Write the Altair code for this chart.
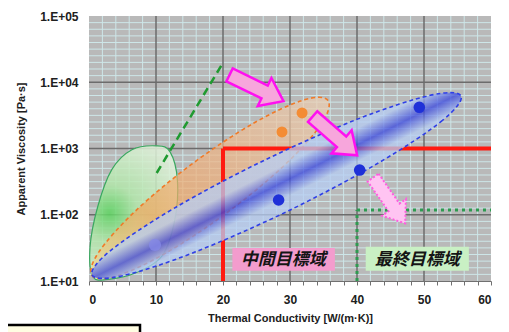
import altair as alt
import pandas as pd

# ---------------- data ----------------
x_ticks = list(range(0, 61, 2))
y_ticks = [10, 100, 1000, 10000, 100000]
x_major = [10, 20, 30, 40, 50]
y_major = [100, 1000, 10000]
x_minor = [v for v in range(2, 60, 2) if v % 10 != 0]
y_minor = [10 ** (k + j / 10) for k in range(1, 5) for j in range(1, 10)]

# ellipse outlines (x, viscosity)
green_x = [10.1, 12.1, 13.2, 12.8, 10.9, 6.9, 3.1, 0.6, 0.15, 1.3, 3.4, 6.4]
green_y = [1096, 891, 331, 83, 24, 13.2, 10.7, 11.5, 32, 132, 479, 955]

orange_x = [35.67, 34.66, 29.18, 20.73, 11.57, 4.15, 0.45, 1.48, 6.93, 15.39, 24.54, 31.99]
orange_y = [5320, 2330, 561, 110, 26.7, 11.9, 12.1, 27.5, 114, 586, 2400, 5380]

blue_x = [55.52, 52.75, 43.31, 29.79, 15.79, 5.04, 0.45, 3.22, 12.63, 26.16, 40.17, 50.93]
blue_y = [6220, 2650, 615, 115, 27.3, 12.0, 12.3, 28.8, 124, 664, 2800, 6350]

# measured points
orange_pts_x = [28.8, 31.8]
orange_pts_y = [1775, 3435]
blue_pts_x = [49.3, 40.4, 28.3]
blue_pts_y = [4190, 473, 167]
faint_pts_x = [9.85]
faint_pts_y = [35]

# target lines
red_x = [20, 20]
red_y = [10, 1000]
red_x2 = [20, 60]
red_y2 = [1000, 1000]
green_tgt_x = [40, 40]
green_tgt_y = [10, 118]
green_tgt_x2 = [40, 60]
green_tgt_y2 = [118, 118]
dash_x = [10.1, 19.8]
dash_y = [427, 18200]

# arrows (centre, direction angle, length)
arrow_x = [25.0, 36.7]
arrow_y = [8180, 1545]
arrow_angle = [26, 41]
arrow_len = [60, 59]
arrow3_x = [44.8]
arrow3_y = [164]
arrow3_angle = [55]
arrow3_len = [56]

# target labels
label_text = ["中間目標域", "最終目標域"]
label_x = [29.0, 49.0]
label_y = [20.8, 20.8]
box_x = [21.4, 41.3]
box_x2 = [36.7, 56.7]
box_y = [14.3, 14.3]
box_y2 = [31.5, 33.0]
box_color = ["#f39ccd", "#c9f0c4"]

# ---------------- chart ----------------
FONT = "Liberation Sans"
W, H = 402, 265

xs = alt.Scale(domain=[0, 60], nice=False, zero=False)
ys = alt.Scale(type="log", domain=[10, 100000], nice=False)

X = alt.X("x:Q", scale=xs, title="Thermal Conductivity  [W/(m·K)]",
          axis=alt.Axis(values=x_ticks, grid=False,
                        labelExpr="datum.value % 10 == 0 ? datum.label : ''",
                        tickSize=4, tickColor="#707070", domainColor="#707070",
                        labelFont=FONT, labelFontWeight="bold", labelFontSize=12,
                        labelColor="#202020", labelPadding=9,
                        titleFont=FONT, titleFontWeight="bold", titleFontSize=11,
                        titleColor="#202020", titlePadding=7))
Y = alt.Y("y:Q", scale=ys, title="Apparent Viscosity [Pa·s]",
          axis=alt.Axis(values=y_ticks, grid=False, domain=False, ticks=False,
                        labelExpr="'1.E+0' + format(log(datum.value)/log(10), '.0f')",
                        labelFont=FONT, labelFontWeight="bold", labelFontSize=12,
                        labelColor="#202020", labelPadding=11,
                        titleFont=FONT, titleFontWeight="bold", titleFontSize=11,
                        titleColor="#202020", titlePadding=13))

layers = []

# grid
layers.append(alt.Chart(pd.DataFrame({"x": x_minor})).mark_rule(color="#cde6e8", strokeWidth=1).encode(x=X))
layers.append(alt.Chart(pd.DataFrame({"y": y_minor})).mark_rule(color="#cde6e8", strokeWidth=1).encode(y=Y))
layers.append(alt.Chart(pd.DataFrame({"x": x_major})).mark_rule(color="#6c6c6c", strokeWidth=1.5).encode(x=X))
layers.append(alt.Chart(pd.DataFrame({"y": y_major})).mark_rule(color="#6c6c6c", strokeWidth=1.5).encode(y=Y))


def ellipse(xv, yv, stroke, dash, fill, op, sw):
    df = pd.DataFrame({"x": xv, "y": yv, "i": list(range(len(xv)))})
    kw = dict(interpolate="cardinal-closed", stroke=stroke, strokeWidth=sw,
              fill=fill, fillOpacity=op)
    if dash:
        kw["strokeDash"] = dash
    return alt.Chart(df).mark_line(**kw).encode(x=X, y=Y, order=alt.Order("i:Q"))


green_fill = {"gradient": "radial", "x1": 0.32, "y1": 0.5, "r1": 0,
              "x2": 0.32, "y2": 0.5, "r2": 0.6,
              "stops": [{"offset": 0, "color": "#5cd460"},
                        {"offset": 0.35, "color": "#b2e6aa"},
                        {"offset": 1, "color": "#e2f2dc"}]}
orange_fill = {"gradient": "linear", "x1": 0, "y1": 1, "x2": 1, "y2": 0,
               "stops": [{"offset": 0, "color": "#eedc98"},
                         {"offset": 0.3, "color": "#f2a65c"},
                         {"offset": 0.55, "color": "#f0b07c"},
                         {"offset": 1, "color": "#ecd0b6"}]}
blue_fill = {"gradient": "linear", "x1": 0, "y1": 0, "x2": 1, "y2": 1,
             "stops": [{"offset": 0, "color": "#c4dcf6"},
                       {"offset": 0.455, "color": "#b6cdf4"},
                       {"offset": 0.5, "color": "#3a48e0"},
                       {"offset": 0.545, "color": "#b6cdf4"},
                       {"offset": 1, "color": "#c4dcf6"}]}

layers.append(ellipse(green_x, green_y, "#3aa860", None, green_fill, 0.85, 1.2))
layers.append(ellipse(orange_x, orange_y, "#f07a28", [4, 3], orange_fill, 0.7, 1.6))

# red target lines (under blue)
red_df = pd.DataFrame({"x": red_x, "y": red_y, "x2": red_x2, "y2": red_y2})
layers.append(alt.Chart(red_df).mark_rule(color="#ff1a10", strokeWidth=4).encode(
    x=X, y=Y, x2=alt.X2("x2"), y2=alt.Y2("y2")))

layers.append(ellipse(blue_x, blue_y, "#2f3fe8", [4, 3], blue_fill, 0.75, 1.6))

# green final target (dotted)
g_df = pd.DataFrame({"x": green_tgt_x, "y": green_tgt_y, "x2": green_tgt_x2, "y2": green_tgt_y2})
layers.append(alt.Chart(g_df).mark_rule(color="#2e9a50", strokeWidth=3, strokeDash=[3, 4]).encode(
    x=X, y=Y, x2=alt.X2("x2"), y2=alt.Y2("y2")))

# green dashed trend
d_df = pd.DataFrame({"x": dash_x, "y": dash_y})
layers.append(alt.Chart(d_df).mark_line(color="#1f9a30", strokeWidth=2.5, strokeDash=[8, 5]).encode(x=X, y=Y))

# points
layers.append(alt.Chart(pd.DataFrame({"x": faint_pts_x, "y": faint_pts_y})).mark_circle(
    size=150, color="#8488e6", opacity=0.8).encode(x=X, y=Y))
layers.append(alt.Chart(pd.DataFrame({"x": orange_pts_x, "y": orange_pts_y})).mark_circle(
    size=120, color="#f48c34", opacity=1).encode(x=X, y=Y))
layers.append(alt.Chart(pd.DataFrame({"x": blue_pts_x, "y": blue_pts_y})).mark_circle(
    size=135, color="#1f30d8", opacity=1).encode(x=X, y=Y))

# arrows
ARROW = "M -1 -0.24 L 0.3 -0.24 L 0.3 -0.52 L 1 0 L 0.3 0.52 L 0.3 0.24 L -1 0.24 Z"
a_df = pd.DataFrame({"x": arrow_x, "y": arrow_y, "a": arrow_angle,
                     "s": [v * v for v in arrow_len]})
layers.append(alt.Chart(a_df).mark_point(shape=ARROW, filled=True, fill="#f7a6dc",
                                         stroke="#ff10f0", strokeWidth=2.5, opacity=1).encode(
    x=X, y=Y, angle=alt.Angle("a:Q", scale=None), size=alt.Size("s:Q", scale=None)))
a3_df = pd.DataFrame({"x": arrow3_x, "y": arrow3_y, "a": arrow3_angle,
                      "s": [v * v for v in arrow3_len]})
layers.append(alt.Chart(a3_df).mark_point(shape=ARROW, filled=True, fill="#ffc4f2",
                                          stroke="#ff5ee0", strokeWidth=2, strokeDash=[2, 2],
                                          opacity=1).encode(
    x=X, y=Y, angle=alt.Angle("a:Q", scale=None), size=alt.Size("s:Q", scale=None)))

# label boxes + text
b_df = pd.DataFrame({"x": box_x, "x2": box_x2, "y": box_y, "y2": box_y2, "c": box_color})
layers.append(alt.Chart(b_df).mark_rect(opacity=1).encode(
    x=X, x2=alt.X2("x2"), y=Y, y2=alt.Y2("y2"), color=alt.Color("c:N", scale=None)))
t_df = pd.DataFrame({"x": label_x, "y": label_y, "t": label_text})
layers.append(alt.Chart(t_df).mark_text(font="Noto Sans CJK JP", fontSize=17, fontWeight="bold",
                                        fontStyle="italic", color="#151515").encode(
    x=X, y=Y, text="t:N"))

# page fragment: framed note box at the bottom left of the screenshot
layers.append(alt.Chart(pd.DataFrame({"k": [0]})).mark_rect(
    fill="#fffde2", stroke="#000000", strokeWidth=2.5, clip=False).encode(
    x=alt.value(-86), x2=alt.value(51), y=alt.value(309), y2=alt.value(345)))

chart = alt.layer(*layers).properties(
    width=W, height=H,
    autosize=alt.AutoSizeParams(type="none"),
    padding={"left": 81, "top": 8, "right": 10, "bottom": 51},
    background="white",
).configure_view(fill="#b9b9b9", stroke=None)

chart.save("out.html", embed_options={"renderer": "svg", "actions": False})
